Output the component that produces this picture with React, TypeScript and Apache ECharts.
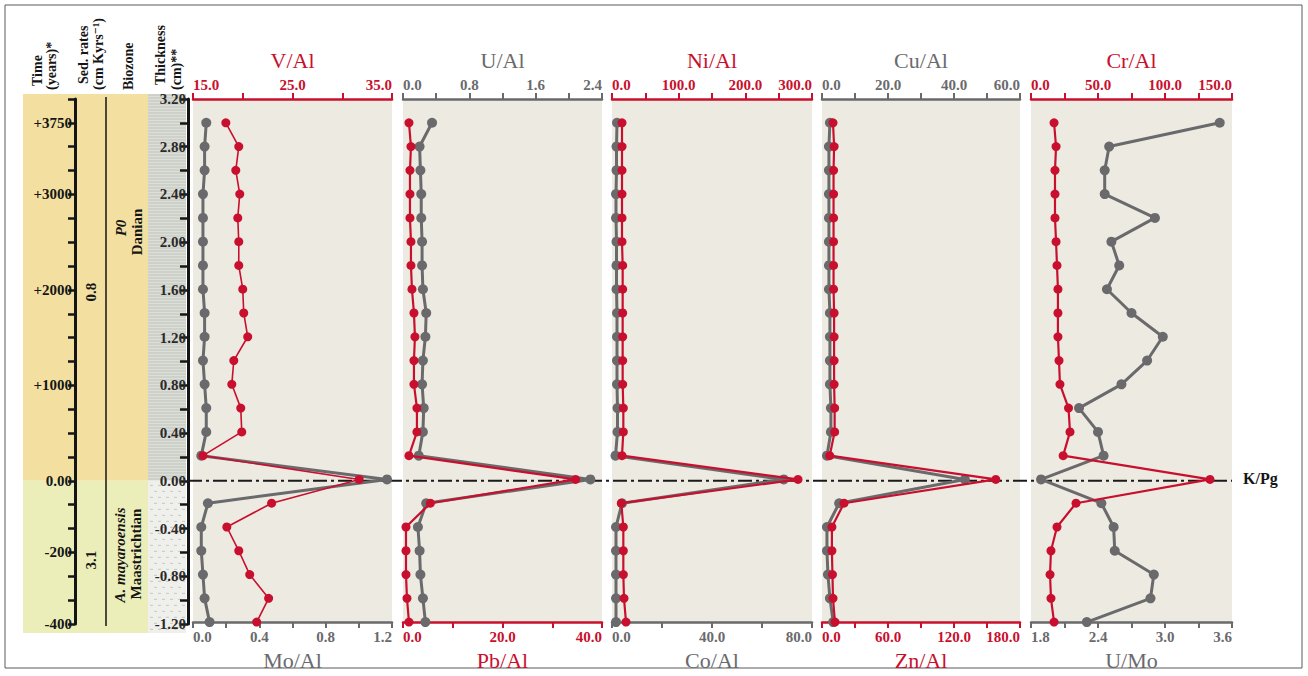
import React, { useEffect, useRef } from 'react';
import * as echarts from 'echarts';

// Sample thickness (cm) for each point, top to bottom
const depths = [3.0, 2.8, 2.6, 2.4, 2.2, 2.0, 1.8, 1.6, 1.4, 1.2, 1.0, 0.8, 0.6, 0.4, 0.2, 0.0, -0.2, -0.4, -0.6, -0.8, -1.0, -1.2];

const vAl = [18.3, 19.6, 19.3, 19.7, 19.5, 19.6, 19.6, 20.0, 20.1, 20.5, 19.1, 18.9, 19.8, 19.9, 16.0, 31.7, 22.9, 18.4, 19.6, 20.7, 22.6, 21.4];
const moAl = [0.08, 0.07, 0.07, 0.06, 0.06, 0.06, 0.06, 0.06, 0.07, 0.07, 0.06, 0.07, 0.08, 0.08, 0.05, 1.17, 0.09, 0.05, 0.05, 0.06, 0.07, 0.1];
const uAl = [0.35, 0.2, 0.21, 0.22, 0.22, 0.23, 0.23, 0.24, 0.28, 0.27, 0.24, 0.23, 0.25, 0.24, 0.19, 2.26, 0.28, 0.18, 0.2, 0.21, 0.24, 0.27];
const pbAl = [1.2, 1.6, 1.4, 1.4, 1.4, 1.6, 1.6, 1.8, 2.2, 2.4, 2.2, 2.2, 2.8, 2.8, 1.2, 34.7, 5.5, 0.6, 0.6, 0.6, 0.8, 1.2];
const niAl = [15, 15, 15, 15, 15, 15, 16, 16, 16, 16, 16, 16, 17, 17, 15, 279, 14, 17, 17, 17, 18, 21];
const coAl = [2.0, 1.8, 1.8, 1.6, 1.6, 1.8, 1.8, 1.8, 2.0, 2.0, 2.0, 2.0, 2.2, 2.2, 1.4, 68.7, 4.0, 1.6, 1.6, 1.6, 1.6, 1.6];
const cuAl = [2.4, 2.1, 2.1, 2.1, 2.1, 2.1, 2.1, 2.1, 2.4, 2.4, 2.4, 2.4, 2.7, 2.7, 1.5, 43.3, 5.2, 1.5, 1.5, 1.8, 2.4, 3.4];
const znAl = [10, 11, 10.5, 10.5, 10.5, 10.5, 10.5, 10.5, 11, 11, 11, 11, 11.5, 11.5, 7, 158, 20, 9, 9, 9.5, 10, 11.8];
const crAl = [17.2, 18.7, 17.9, 17.9, 17.9, 18.7, 19.4, 20.1, 20.1, 20.1, 20.9, 21.6, 28.0, 29.1, 24.0, 133.6, 33.6, 19.4, 14.9, 14.2, 14.9, 17.2];
const uMo = [3.49, 2.5, 2.46, 2.46, 2.91, 2.52, 2.59, 2.48, 2.7, 2.98, 2.84, 2.61, 2.23, 2.4, 2.45, 1.89, 2.43, 2.54, 2.55, 2.9, 2.87, 2.3];

// Tick label maps
const timeLabels: Record<string, string> = { '30': '+3750', '24': '+3000', '16': '+2000', '8': '+1000', '0': '0.00', '-6': '-200', '-12': '-400' };

const RED = '#C8102E';
const GRAY = '#6A6A6D';
const SERIF = '"Liberation Serif", "DejaVu Serif", serif';
const PANEL_BG = '#EDEAE1';

type AxisSpec = { name: string; min: number; max: number; interval: number; labelStep: number; color: string; data: number[] };
type Panel = { left: number; width: number; top: AxisSpec; bottom: AxisSpec };

const panels: Panel[] = [
  { left: 193, width: 199,
    top: { name: 'V/Al', min: 15, max: 35, interval: 5, labelStep: 10, color: RED, data: vAl },
    bottom: { name: 'Mo/Al', min: 0, max: 1.2, interval: 0.2, labelStep: 0.4, color: GRAY, data: moAl } },
  { left: 403, width: 199,
    top: { name: 'U/Al', min: 0, max: 2.4, interval: 0.4, labelStep: 0.8, color: GRAY, data: uAl },
    bottom: { name: 'Pb/Al', min: 0, max: 40, interval: 10, labelStep: 20, color: RED, data: pbAl } },
  { left: 612, width: 200,
    top: { name: 'Ni/Al', min: 0, max: 300, interval: 50, labelStep: 100, color: RED, data: niAl },
    bottom: { name: 'Co/Al', min: 0, max: 80, interval: 20, labelStep: 40, color: GRAY, data: coAl } },
  { left: 822, width: 198,
    top: { name: 'Cu/Al', min: 0, max: 60, interval: 10, labelStep: 20, color: GRAY, data: cuAl },
    bottom: { name: 'Zn/Al', min: 0, max: 180, interval: 30, labelStep: 60, color: RED, data: znAl } },
  { left: 1031, width: 201,
    top: { name: 'Cr/Al', min: 0, max: 150, interval: 25, labelStep: 50, color: RED, data: crAl },
    bottom: { name: 'U/Mo', min: 1.8, max: 3.6, interval: 0.3, labelStep: 0.6, color: GRAY, data: uMo } },
];

const GRID_TOP = 99;
const GRID_H = 525;
const YMIN = -1.2;
const YMAX = 3.2;

function isStep(v: number, min: number, step: number) {
  const r = (v - min) / step;
  return Math.abs(r - Math.round(r)) < 1e-6;
}

function xAxisOf(gridIndex: number, s: AxisSpec, pos: 'top' | 'bottom') {
  return {
    gridIndex, type: 'value', position: pos, min: s.min, max: s.max, interval: s.interval,
    name: s.name, nameLocation: 'middle', nameGap: pos === 'top' ? 28 : 21,
    nameTextStyle: { color: s.color, fontSize: 22, fontFamily: SERIF },
    axisLine: { show: true, onZero: false, lineStyle: { color: s.color, width: 2.5 } },
    axisTick: { show: true, length: 6, lineStyle: { color: s.color, width: 2 } },
    axisLabel: {
      color: s.color, fontSize: 15, fontWeight: 'bold', fontFamily: SERIF, margin: pos === 'top' ? 7 : 7,
      showMinLabel: true, showMaxLabel: true, alignMinLabel: 'left', alignMaxLabel: 'right',
      formatter: (v: number) => (isStep(v, s.min, s.labelStep) ? v.toFixed(1) : ''),
    },
    splitLine: { show: false },
  };
}

export default function App() {
  const ref = useRef<HTMLDivElement>(null);
  useEffect(() => {
    document.body.style.margin = '0';
    const chart = echarts.init(ref.current!, null, { renderer: 'svg' });

    const grids: any[] = [
      { left: 75, width: 1, top: GRID_TOP, height: GRID_H },
      { left: 188, width: 1, top: GRID_TOP, height: GRID_H },
    ];
    const xAxes: any[] = [
      { gridIndex: 0, type: 'value', show: false, min: 0, max: 1 },
      { gridIndex: 1, type: 'value', show: false, min: 0, max: 1 },
    ];
    const yAxes: any[] = [
      {
        gridIndex: 0, type: 'value', position: 'left', min: YMIN, max: YMAX, interval: 0.2,
        axisLine: { show: true, onZero: false, lineStyle: { color: '#151515', width: 3 } },
        axisTick: { show: true, length: 7, lineStyle: { color: '#151515', width: 2.5 } },
        axisLabel: {
          color: '#151515', fontSize: 15, fontWeight: 'bold', fontFamily: SERIF, margin: 3,
          showMinLabel: true, showMaxLabel: true,
          formatter: (v: number) => timeLabels[String(Math.round(v * 10))] || '',
        },
        splitLine: { show: false },
      },
      {
        gridIndex: 1, type: 'value', position: 'left', min: YMIN, max: YMAX, interval: 0.2,
        axisLine: { show: true, onZero: false, lineStyle: { color: '#151515', width: 3 } },
        axisTick: { show: true, length: 8, lineStyle: { color: '#151515', width: 2.5 } },
        axisLabel: {
          color: '#2a2a2a', fontSize: 15, fontWeight: 'bold', fontFamily: SERIF, margin: 2,
          showMinLabel: true, showMaxLabel: true,
          formatter: (v: number) => {
            const k = Math.round(v * 10);
            if (k % 4 !== 0) return '';
            return (k / 10).toFixed(2);
          },
        },
        splitLine: { show: false },
      },
    ];
    const series: any[] = [];

    panels.forEach((p, i) => {
      const g = i + 2;
      grids.push({ left: p.left, width: p.width, top: GRID_TOP, height: GRID_H, show: true, backgroundColor: PANEL_BG, borderWidth: 0 });
      const topIdx = xAxes.length;
      xAxes.push(xAxisOf(g, p.top, 'top'));
      const botIdx = xAxes.length;
      xAxes.push(xAxisOf(g, p.bottom, 'bottom'));
      const yIdx = yAxes.length;
      yAxes.push({ gridIndex: g, type: 'value', min: YMIN, max: YMAX, show: false });
      const specs: [AxisSpec, number][] = [[p.top, topIdx], [p.bottom, botIdx]];
      // gray first, red on top
      specs.sort((a, b) => (a[0].color === RED ? 1 : 0) - (b[0].color === RED ? 1 : 0));
      specs.forEach(([s, xi]) => {
        const isRed = s.color === RED;
        series.push({
          type: 'line', name: s.name, xAxisIndex: xi, yAxisIndex: yIdx,
          data: depths.map((d, k) => [s.data[k], d]),
          symbol: 'circle', symbolSize: isRed ? 9 : 10,
          lineStyle: { color: s.color, width: isRed ? (i === 0 ? 1.6 : 2.2) : 3 },
          itemStyle: { color: s.color },
          z: isRed ? 4 : 3,
        });
      });
    });

    chart.setOption({
      animation: false,
      backgroundColor: '#ffffff',
      grid: grids,
      xAxis: xAxes,
      yAxis: yAxes,
      series,
    });

    const yOf = (d: number) => chart.convertToPixel({ yAxisIndex: 1 }, d) as number;
    const y0 = yOf(0);
    const yT = yOf(YMAX);
    const yB = yOf(YMIN);

    const g: any[] = [];
    g.push({ type: 'rect', z: -20, shape: { x: 5, y: 5, width: 1297, height: 663 }, style: { fill: 'none', stroke: '#5a5a5a', lineWidth: 1 } });
    // column backgrounds
    g.push({ type: 'rect', z: -10, shape: { x: 23, y: yT - 5, width: 125, height: y0 - yT + 5 }, style: { fill: '#F3E0A1' } });
    g.push({ type: 'rect', z: -10, shape: { x: 23, y: y0, width: 125, height: yB - y0 + 9 }, style: { fill: '#ECEEB9' } });
    // thickness column: upper laminated, lower dotted
    g.push({ type: 'rect', z: -10, shape: { x: 148, y: yT - 5, width: 38, height: y0 - yT + 5 }, style: { fill: '#DCDFD8' } });
    for (let y = yT - 4; y < y0; y += 3) {
      g.push({ type: 'line', z: -9, shape: { x1: 148, y1: y, x2: 186, y2: y }, style: { stroke: '#BFC3BC', lineWidth: 1 } });
    }
    g.push({ type: 'rect', z: -10, shape: { x: 148, y: y0, width: 38, height: yB - y0 + 9 }, style: { fill: '#EFEFEC' } });
    for (let r = 0, y = y0 + 4; y < yB + 6; y += 6, r++) {
      for (let x = 150 + (r % 2) * 4; x < 184; x += 8) {
        g.push({ type: 'rect', z: -9, shape: { x, y, width: 3, height: 1 }, style: { fill: '#C5C7C2' } });
      }
    }
    // separator between sed. rates and biozone
    g.push({ type: 'line', z: 1, shape: { x1: 106, y1: yT - 2, x2: 106, y2: yB + 2 }, style: { stroke: '#151515', lineWidth: 1.5 } });

    // headers (rotated)
    const hdr = (text: string, x: number, yb: number) => ({
      type: 'text', z: 5, x, y: yb, rotation: Math.PI / 2,
      style: { text, fill: '#151515', font: `bold 14px ${SERIF}`, textAlign: 'left', textVerticalAlign: 'middle' },
    });
    g.push(hdr('Time', 37, 86));
    g.push(hdr('(years)*', 51, 90));
    g.push(hdr('Sed. rates', 83, 84));
    g.push(hdr('(cm Kyrs\u207B\u00B9)', 98, 90));
    g.push(hdr('Biozone', 128, 90));
    g.push(hdr('Thickness', 160, 85));
    g.push(hdr('(cm)**', 176, 90));

    const vtxt = (text: string, x: number, y: number, italic = false) => ({
      type: 'text', z: 5, x, y, rotation: Math.PI / 2,
      style: { text, fill: '#151515', font: `${italic ? 'italic ' : ''}bold 15px ${SERIF}`, textAlign: 'center', textVerticalAlign: 'middle' },
    });
    g.push(vtxt('0.8', 91, 292));
    g.push(vtxt('3.1', 91, 560));
    g.push(vtxt('P0', 121, 228, true));
    g.push(vtxt('Danian', 137, 232));
    g.push(vtxt('A. mayaroensis', 120, 555, true));
    g.push(vtxt('Maastrichtian', 136, 554));

    // K/Pg boundary
    g.push({ type: 'line', z: 1, shape: { x1: 188, y1: y0, x2: 1232, y2: y0 }, style: { stroke: '#1a1a1a', lineWidth: 2, lineDash: [14, 4, 3, 4] } });
    g.push({ type: 'text', z: 5, x: 1243, y: y0 - 2, style: { text: 'K/Pg', fill: '#151515', font: `bold 16px ${SERIF}`, textAlign: 'left', textVerticalAlign: 'middle' } });

    chart.setOption({ graphic: g });

    return () => chart.dispose();
  }, []);
  return <div ref={ref} style={{ width: 1308, height: 676 }} />;
}
